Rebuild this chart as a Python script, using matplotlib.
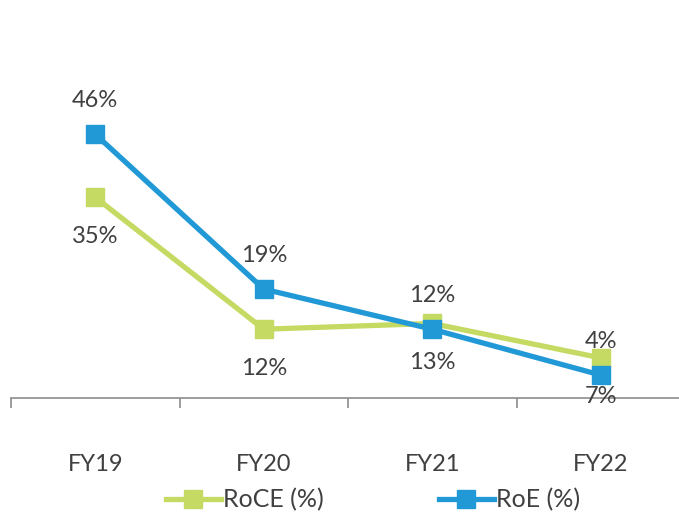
import numpy as np
import matplotlib.pyplot as plt

years = ['FY19', 'FY20', 'FY21', 'FY22']
roce = [35, 12, 13, 7]
roe = [46, 19, 12, 4]
roce_labels = ['35%', '12%', '13%', '7%']
roe_labels = ['46%', '19%', '12%', '4%']

green = '#C5DA62'
blue = '#2199D6'
txt = '#404040'

plt.rcParams['font.family'] = ['Lato', 'DejaVu Sans']

fig = plt.figure(figsize=(6.79, 5.19), dpi=100)
ax = fig.add_axes([11 / 679, 121 / 519, 674 / 679, 344 / 519])

x = np.arange(len(years))
ax.plot(x, roce, color=green, lw=3.8, marker='s', ms=13, label='RoCE (%)', zorder=3)
ax.plot(x, roe, color=blue, lw=3.8, marker='s', ms=13, label='RoE (%)', zorder=4)

# labels: RoE above, RoCE below
for xi, v, s in zip(x, roe, roe_labels):
    ax.annotate(s, (xi, v), xytext=(0, 24), textcoords='offset points',
                ha='center', va='center', fontsize=17, color=txt)
for xi, v, s in zip(x, roce, roce_labels):
    ax.annotate(s, (xi, v), xytext=(0, -28), textcoords='offset points',
                ha='center', va='center', fontsize=17, color=txt)

ax.set_xlim(-0.5, 3.5)
ax.set_ylim(0, 60)
ax.set_xticks(np.arange(-0.5, 4, 1))
ax.set_xticklabels([])
ax.set_xticks(x, minor=True)
ax.set_xticklabels(years, minor=True)
ax.tick_params(axis='x', which='major', length=7, width=1.2, color='#8C8C8C', direction='out')
ax.tick_params(axis='x', which='minor', length=0, pad=40, labelsize=17, labelcolor=txt)
ax.set_yticks([])
for side in ['top', 'right', 'left']:
    ax.spines[side].set_visible(False)
ax.spines['bottom'].set_color('#8C8C8C')
ax.spines['bottom'].set_linewidth(1.2)

fig.legend(loc='center', bbox_to_anchor=(373 / 679, 1 - 500 / 519), ncol=2,
           frameon=False, fontsize=18, handlelength=2.2, handletextpad=0.1,
           columnspacing=4.6, labelcolor=txt)

fig.savefig('out.png', dpi=100)
